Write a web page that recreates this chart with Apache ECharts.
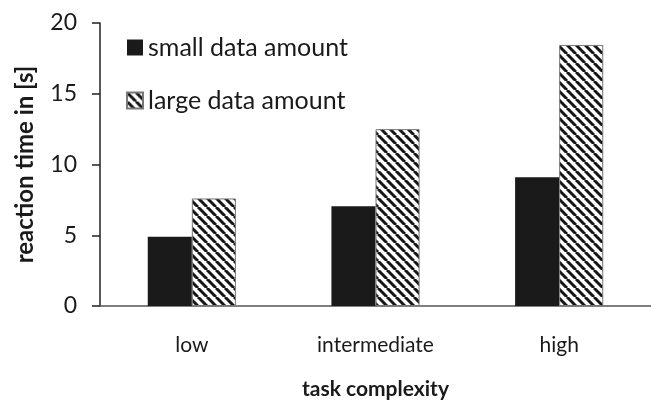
<!DOCTYPE html>
<html>
<head>
<meta charset="utf-8">
<script src="https://cdn.jsdelivr.net/npm/echarts@6/dist/echarts.min.js"></script>
<style>
  html, body { margin: 0; padding: 0; background: #fff; }
  #chart { width: 651px; height: 400px; }
</style>
</head>
<body>
<div id="chart"></div>
<script>
// data
const categories = ['low', 'intermediate', 'high'];
const smallData = [4.9, 7.05, 9.1];
const largeData = [7.6, 12.5, 18.45];
const yTicks = [0, 5, 10, 15, 20];

// diagonal hatch pattern
function makeHatch() {
  const s = 9;
  const c = document.createElement('canvas');
  c.width = s; c.height = s;
  const ctx = c.getContext('2d');
  ctx.fillStyle = '#fff';
  ctx.fillRect(0, 0, s, s);
  ctx.strokeStyle = '#151515';
  ctx.lineWidth = 3;
  for (let k = -1; k <= 1; k++) {
    ctx.beginPath();
    ctx.moveTo(k * s, 0);
    ctx.lineTo(k * s + s, s);
    ctx.stroke();
  }
  return c;
}

const font = 'Lato, "Open Sans", sans-serif';
const chart = echarts.init(document.getElementById('chart'), null, { renderer: 'canvas' });

chart.setOption({
  animation: false,
  textStyle: { fontFamily: font, color: '#1a1a1a' },
  grid: { left: 100, right: 0, top: 23, bottom: 94, outerBoundsMode: 'none', containLabel: false },
  legend: {
    orient: 'vertical',
    left: 126,
    top: 35,
    padding: 0,
    itemWidth: 16,
    itemHeight: 16,
    itemGap: 28,
    textStyle: { fontFamily: font, fontSize: 25, color: '#1a1a1a' },
    data: [
      { name: 'small data amount', icon: 'rect' },
      { name: 'large data amount', icon: 'rect' }
    ]
  },
  xAxis: {
    type: 'category',
    data: categories,
    name: 'task complexity',
    nameLocation: 'middle',
    nameGap: 73,
    nameTextStyle: { fontFamily: font, fontSize: 21, fontWeight: 'bold', color: '#1a1a1a' },
    axisLine: { lineStyle: { color: '#555', width: 1.5 } },
    axisTick: { show: false },
    axisLabel: { fontFamily: font, fontSize: 21, color: '#1a1a1a', margin: 29 }
  },
  yAxis: {
    type: 'value',
    min: yTicks[0],
    max: yTicks[yTicks.length - 1],
    interval: 5,
    name: 'reaction time in [s]',
    nameLocation: 'middle',
    nameGap: 63,
    nameTextStyle: { fontFamily: font, fontSize: 24, fontWeight: 'bold', color: '#1a1a1a' },
    axisLine: { show: true, lineStyle: { color: '#222', width: 1.5 } },
    axisTick: { show: true, length: 8, lineStyle: { color: '#222', width: 1.5 } },
    axisLabel: { fontFamily: font, fontSize: 23, color: '#1a1a1a', margin: 23 },
    splitLine: { show: false }
  },
  series: [
    {
      name: 'small data amount',
      type: 'bar',
      data: smallData,
      barWidth: '24%',
      barGap: '0%',
      itemStyle: { color: '#1a1a1a' }
    },
    {
      name: 'large data amount',
      type: 'bar',
      data: largeData,
      barWidth: '24%',
      itemStyle: {
        color: { image: makeHatch(), repeat: 'repeat' },
        borderColor: '#777',
        borderWidth: 1
      }
    }
  ]
});
</script>
</body>
</html>
